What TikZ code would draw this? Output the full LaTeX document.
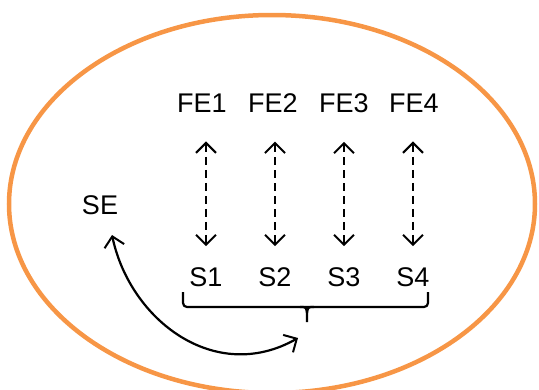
\documentclass[tikz,border=0pt]{standalone}
\usepackage{fontspec}
\setmainfont{Liberation Sans}
\usetikzlibrary{arrows.meta}
\definecolor{setorange}{HTML}{F79646}
\tikzset{
	lbl/.style={font=\fontsize{27}{32}\selectfont, inner sep=0pt},
	barb/.tip={Straight Barb[length=10pt,width=20pt,line width=2pt]},
	link/.style={line width=2.2pt, barb-barb},
	linkdash/.style={link, dash pattern=on 8pt off 5pt},
}

\begin{document}
\begin{tikzpicture}[x=1pt,y=-1pt]
	\useasboundingbox (0,0) rectangle (539,389);
	\begin{scope}
	\clip (0,0) rectangle (539,389);
	\draw [setorange, line width=4.5pt] (272,204) ellipse [x radius=263, y radius=189];
	\end{scope}
	%
	\node [lbl] (fe1) at (202,103) {FE1};
	\node [lbl] (fe2) at (273,103) {FE2};
	\node [lbl] (fe3) at (344,103) {FE3};
	\node [lbl] (fe4) at (414,103) {FE4};
	\node [lbl] (s1) at (206,277) {S1};
	\node [lbl] (s2) at (275,277) {S2};
	\node [lbl] (s3) at (344,277) {S3};
	\node [lbl] (s4) at (413,277) {S4};
	\node [lbl] (se) at (100,205) {SE};
	\foreach \i in {1,...,4}
		\draw [linkdash, shorten <=29pt, shorten >=21pt] (s\i |- fe\i.south) -- (s\i.north);
	%
	\draw [line width=2.2pt, rounded corners=4pt] (183,292) -- (183,307) -- (428,307) -- (428,292);
	\draw [line width=2.2pt] (300,307) .. controls (306,307) .. (307,313) -- (307,322);
	\draw [line width=2.2pt] (314,307) .. controls (308,307) .. (307,313);
	\coordinate (grp) at (298,338);
	\coordinate (seEnd) at (112,235);
	\draw [link] (seEnd) .. controls (130,320) and (215,385) .. (grp);
\end{tikzpicture}
\end{document}
